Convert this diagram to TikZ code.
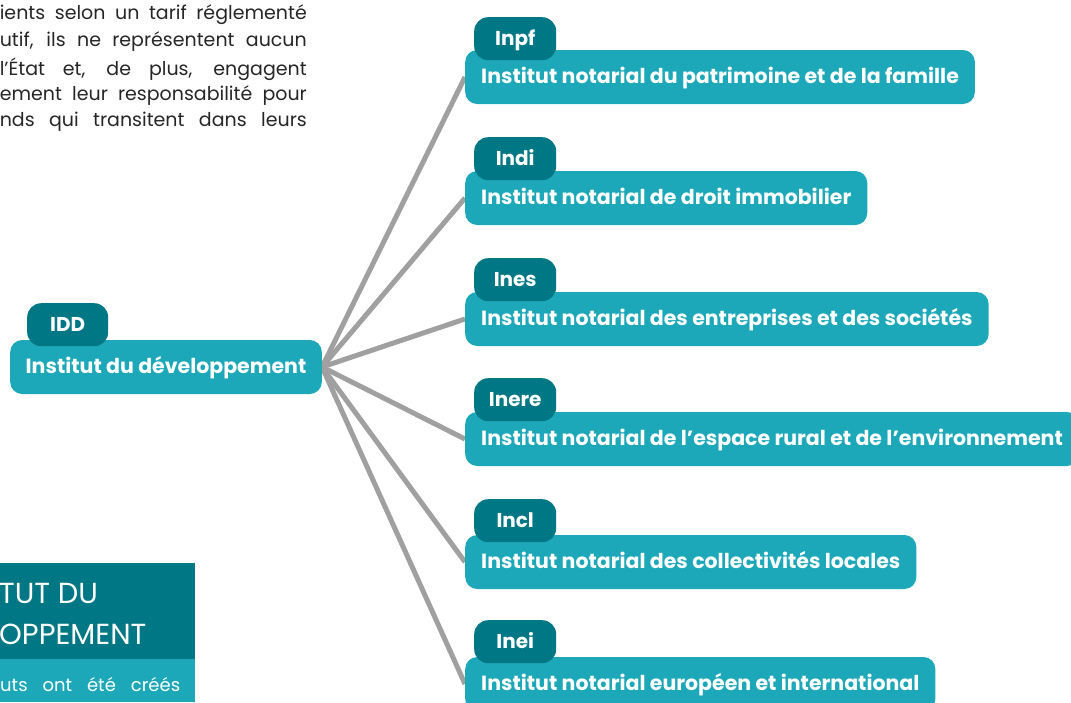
\documentclass[tikz,border=0pt]{standalone}
\usepackage{fontspec}
\setmainfont{Poppins}
\usetikzlibrary{backgrounds}
\definecolor{lteal}{RGB}{29,168,185}
\definecolor{dteal}{RGB}{0,119,132}
\definecolor{lgray}{RGB}{160,160,160}
\begin{document}
\begin{tikzpicture}[x=1pt,y=-1pt,
  inst/.style={fill=lteal,rounded corners=12pt,text=white,font=\fontsize{20.5}{24}\selectfont\bfseries,inner xsep=16pt,minimum height=54pt,text height=14pt,text depth=2pt,anchor=west},
  tab/.style={fill=dteal,rounded corners=14pt,text=white,font=\fontsize{20}{24}\selectfont\bfseries,minimum width=82pt,minimum height=43pt,text depth=0pt,text height=14pt,anchor=north west},
  link/.style={draw=lgray,line width=5pt},
  para/.style={anchor=north east,inner sep=0pt,font=\fontsize{19}{27}\selectfont,text=black!85}]
\useasboundingbox (0,0) rectangle (1071,702);
\begin{scope}
\clip (0,0) rectangle (1071,702);
% paragraph
\node[para] (p1) at (307,4) {\makebox[307pt][s]{ients selon un tarif réglementé}};
\node[para] (p2) at (307,31) {\makebox[307pt][s]{utif, ils ne représentent aucun}};
\node[para] (p3) at (307,58) {\makebox[307pt][s]{l’État et, de plus, engagent}};
\node[para] (p4) at (307,85) {\makebox[307pt][s]{ement leur responsabilité pour}};
\node[para] (p5) at (307,112) {\makebox[307pt][s]{nds qui transitent dans leurs}};
% bottom left panel
\fill[dteal] (0,563) rectangle (195,659);
\fill[lteal] (0,659) rectangle (195,702);
\node[anchor=base west,inner sep=0pt,text=white,font=\fontsize{29}{30}\selectfont] (t1) at (-1,603) {TUT DU};
\node[anchor=base west,inner sep=0pt,text=white,font=\fontsize{29}{30}\selectfont] (t2) at (-1,644) {OPPEMENT};
\node[anchor=base west,inner sep=0pt,text=white,font=\fontsize{18}{20}\selectfont] (t3) at (0,691) {\makebox[180pt][s]{uts ont été créés}};
% boxes
\node[inst] (b1) at (465,77) {Institut notarial du patrimoine et de la famille};
\node[inst] (b2) at (465,198) {Institut notarial de droit immobilier};
\node[inst] (b3) at (465,319) {Institut notarial des entreprises et des sociétés};
\node[inst] (b4) at (465,439) {Institut notarial de l’espace rural et de l’environnement};
\node[inst] (b5) at (465,562) {Institut notarial des collectivités locales};
\node[inst] (b6) at (465,684) {Institut notarial européen et international};
\node[tab] (a1) at (474,17) {Inpf};
\node[tab] (a2) at (474,137) {Indi};
\node[tab] (a3) at (474,258) {Ines};
\node[tab] (a4) at (474,378) {Inere};
\node[tab] (a5) at (474,499) {Incl};
\node[tab] (a6) at (474,620) {Inei};
% main
\node[inst,anchor=west,inner xsep=15.5pt] (m) at (10,367) {Institut du développement};
\node[tab,minimum width=81pt] (am) at (27,303) {IDD};
\begin{scope}[on background layer]
\draw[link] (m.east) -- (b1.west);
\draw[link] (m.east) -- (b2.west);
\draw[link] (m.east) -- (b3.west);
\draw[link] (m.east) -- (b4.west);
\draw[link] (m.east) -- (b5.west);
\draw[link] (m.east) -- (b6.west);
\end{scope}
\end{scope}
\end{tikzpicture}
\end{document}
